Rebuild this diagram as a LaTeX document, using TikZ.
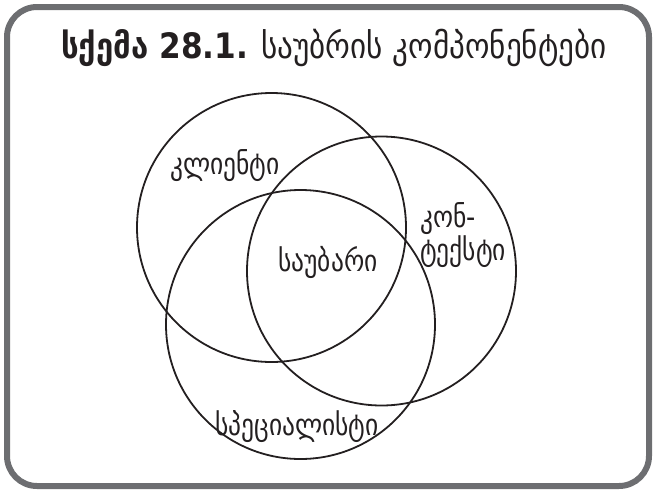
\documentclass[tikz,border=0pt]{standalone}
\usepackage{fontspec}
\setmainfont{DejaVu Sans}
\newfontfamily\geo[FakeStretch=0.85]{DejaVu Sans}
\newfontfamily\geot[FakeStretch=0.89]{DejaVu Sans}
\definecolor{framegray}{RGB}{109,110,113}
\definecolor{ink}{RGB}{35,31,32}
\begin{document}
\begin{tikzpicture}[x=1pt,y=-1pt,
  ring/.style={draw=ink, line width=1.8pt, circle, inner sep=0pt, minimum size=269pt},
  lbl/.style={font=\geo\fontsize{30}{29}\selectfont, text=ink, inner sep=0pt},
  ttl/.style={font=\geot\fontsize{35}{38}\selectfont, text=ink, inner sep=0pt}]
\useasboundingbox (0,0) rectangle (656,493);
\draw[framegray, line width=6pt, rounded corners=30pt] (7,7) rectangle (649,486);
\node[ttl, anchor=base] (title) at (334,58) {{\bfseries სქემა 28.1.} საუბრის კომპონენტები};
\node[ring] (client) at (271.5,227.5) {};
\node[ring] (context) at (381.5,271) {};
\node[ring] (spec) at (300.5,324.5) {};
\node[lbl] (lclient) at (225,166) {კლიენტი};
\node[lbl] (lconv) at (328,262) {საუბარი};
\node[lbl, anchor=west, align=left] (lctx) at (420,235) {კონ-\\ტექსტი};
\node[lbl] (lspec) at (297,427) {სპეციალისტი};
\end{tikzpicture}
\end{document}
